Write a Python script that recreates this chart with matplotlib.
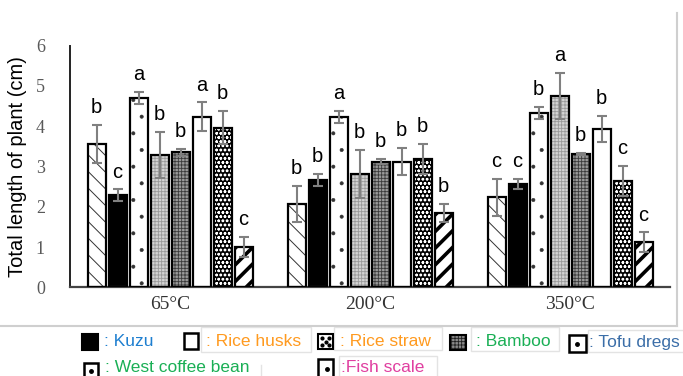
import matplotlib
matplotlib.use("Agg")
import matplotlib.pyplot as plt
from matplotlib.patches import Rectangle
from matplotlib.lines import Line2D
import numpy as np

# ---------------- data ----------------
groups = ["65°C", "200°C", "350°C"]
series = ["S1", "Kuzu", "Rice husks", "Rice straw", "Bamboo",
          "Tofu dregs", "West coffee bean", "Fish scale"]
s1_mean = [3.56, 2.06, 2.23]
s2_mean = [2.29, 2.66, 2.56]
s3_mean = [4.70, 4.22, 4.33]
s4_mean = [3.28, 2.81, 4.75]
s5_mean = [3.35, 3.12, 3.31]
s6_mean = [4.23, 3.12, 3.93]
s7_mean = [3.96, 3.18, 2.64]
s8_mean = [1.01, 1.84, 1.12]
s1_err = [0.47, 0.45, 0.46]
s2_err = [0.14, 0.15, 0.13]
s3_err = [0.15, 0.15, 0.15]
s4_err = [0.58, 0.60, 0.58]
s5_err = [0.08, 0.07, 0.03]
s6_err = [0.36, 0.33, 0.32]
s7_err = [0.41, 0.37, 0.38]
s8_err = [0.25, 0.23, 0.24]
s1_let = ["b", "b", "c"]
s2_let = ["c", "b", "c"]
s3_let = ["a", "a", "b"]
s4_let = ["b", "b", "a"]
s5_let = ["b", "b", "b"]
s6_let = ["a", "b", "b"]
s7_let = ["b", "b", "c"]
s8_let = ["c", "b", "c"]
yticks = [0, 1, 2, 3, 4, 5, 6]

means = [s1_mean, s2_mean, s3_mean, s4_mean, s5_mean, s6_mean, s7_mean, s8_mean]
errs = [s1_err, s2_err, s3_err, s4_err, s5_err, s6_err, s7_err, s8_err]
lets = [s1_let, s2_let, s3_let, s4_let, s5_let, s6_let, s7_let, s8_let]

# styles: (facecolor, hatch, hatchcolor, hatch linewidth)
styles = [
    ("white", "\\\\", "#333333", 0.7),
    ("black", None, "black", 1.0),
    ("white", ".", "#333333", 0.4),
    ("#d4d4d4", "+++++", "#9a9a9a", 0.6),
    ("#9a9a9a", "+++++", "#3a3a3a", 0.6),
    ("white", None, "black", 1.0),
    ("black", "oooo", "white", 0.7),
    ("white", "//", "black", 2.6),
]

W, H = 683, 376
fig = plt.figure(figsize=(W / 100, H / 100), dpi=100)
ax = fig.add_axes([70 / W, 1 - 287.3 / H, 600 / W, (287.3 - 45.5) / H])

x = np.arange(len(groups))
step = 0.105
bw = 0.09
for i in range(len(series)):
    xs = x + (i - 3.5) * step
    fc, hatch, hc, hlw = styles[i]
    with plt.rc_context({"hatch.linewidth": hlw}):
        bars = ax.bar(xs, means[i], bw, color=fc, edgecolor=hc, linewidth=0,
                      hatch=hatch, zorder=2)
        for b in bars:
            if hasattr(b, "set_hatch_linewidth"):
                b.set_hatch_linewidth(hlw)
    ax.bar(xs, means[i], bw, fill=False, edgecolor="black", linewidth=1.6, zorder=3)
    ax.errorbar(xs, means[i], yerr=errs[i], fmt="none", ecolor="#808080",
                elinewidth=1.5, capsize=3.3, capthick=1.5, zorder=4)
    for xi, m, e, l in zip(xs, means[i], errs[i], lets[i]):
        ax.annotate(l, (xi, m + e), xytext=(0, 8.5), textcoords="offset points",
                    ha="center", va="baseline", fontsize=14.5,
                    family="Liberation Sans", color="black")

ax.set_xlim(-0.5, 2.5)
ax.set_ylim(0, 6)
ax.set_yticks(yticks)
ax.set_xticks(x)
ax.set_xticklabels(groups, family="Liberation Serif", fontsize=14, color="#333333")
ax.set_yticklabels([str(t) for t in yticks], family="Liberation Serif",
                   fontsize=13, color="#595959")
ax.tick_params(axis="y", length=0, pad=18)
ax.tick_params(axis="x", length=0, pad=6)
for s in ["top", "right"]:
    ax.spines[s].set_visible(False)
ax.spines["left"].set_linewidth(1.4)
ax.spines["left"].set_color("#222222")
ax.spines["bottom"].set_linewidth(1.6)
ax.spines["bottom"].set_color("#444444")

fig.text(18 / W, 1 - 167 / H, "Total length of plant (cm)", rotation=90,
         ha="center", va="center", fontsize=14.5, family="Liberation Sans")

# frame lines
fig.add_artist(Line2D([677 / W, 677 / W], [1 - 13 / H, 1 - 326 / H],
                      transform=fig.transFigure, color="#cfcfcf", lw=1.5))
fig.add_artist(Line2D([0, 677 / W], [1 - 326 / H, 1 - 326 / H],
                      transform=fig.transFigure, color="#cfcfcf", lw=1.5))

# ---------------- legend (manual) ----------------
def fig_rect(x0, y0, x1, y1, **kw):
    r = Rectangle((x0 / W, 1 - y1 / H), (x1 - x0) / W, (y1 - y0) / H,
                  transform=fig.transFigure, **kw)
    fig.add_artist(r)
    return r

def dot(xc, yc, ms=2.5):
    fig.add_artist(Line2D([xc / W], [1 - yc / H], transform=fig.transFigure,
                          marker="o", ms=ms, color="black", lw=0))

# text boxes
for (bx0, by0, bx1, by1) in [(201, 327, 311, 352), (334, 327, 442, 350),
                             (471, 327, 559, 351), (588, 330, 700, 352),
                             (339, 356, 437, 380)]:
    fig_rect(bx0, by0, bx1, by1, facecolor="none", edgecolor="#e3e3e3", lw=1.0)
fig.add_artist(Line2D([261 / W, 261 / W], [1 - 365 / H, 0],
                      transform=fig.transFigure, color="#e3e3e3", lw=1.0))

# squares
fig_rect(82, 334, 98, 350, facecolor="black", edgecolor="black", lw=1.5)
fig_rect(184, 333, 198, 349, facecolor="white", edgecolor="black", lw=1.8)
fig_rect(318, 334, 333, 349, facecolor="white", edgecolor="black", lw=1.5)
for (dx, dy) in [(322, 338), (329, 338), (325.5, 341.5), (322, 345), (329, 345)]:
    dot(dx, dy, 2)
with plt.rc_context({"hatch.linewidth": 0.6}):
    fig_rect(450, 335, 466, 350, facecolor="#8a8a8a", edgecolor="#202020",
             lw=0, hatch="+++++")
fig_rect(450, 335, 466, 350, facecolor="none", edgecolor="black", lw=1.5)
fig_rect(569, 335, 586, 352, facecolor="white", edgecolor="black", lw=1.8)
dot(577, 344)
fig_rect(84, 363, 98, 380, facecolor="white", edgecolor="black", lw=1.8)
dot(91, 371)
fig_rect(318, 359, 333, 380, facecolor="white", edgecolor="black", lw=1.8)
dot(327, 369)

leg_fs = 12.5
leg_items = [
    (104, 342, ": Kuzu", "#1E7FD0"),
    (206, 341, ": Rice husks", "#FF9A1F"),
    (340, 341, ": Rice straw", "#FF9A1F"),
    (476, 342, ": Bamboo", "#1AAF55"),
    (589, 342, ": Tofu dregs", "#3B6EA8"),
    (105, 368, ": West coffee bean", "#1AAF55"),
    (341, 368, ":Fish scale", "#E03FA0"),
]
for (tx, ty, t, c) in leg_items:
    fig.text(tx / W, 1 - ty / H, t, color=c, fontsize=leg_fs,
             family="Liberation Sans", ha="left", va="center")

fig.savefig("out.png", dpi=100)
